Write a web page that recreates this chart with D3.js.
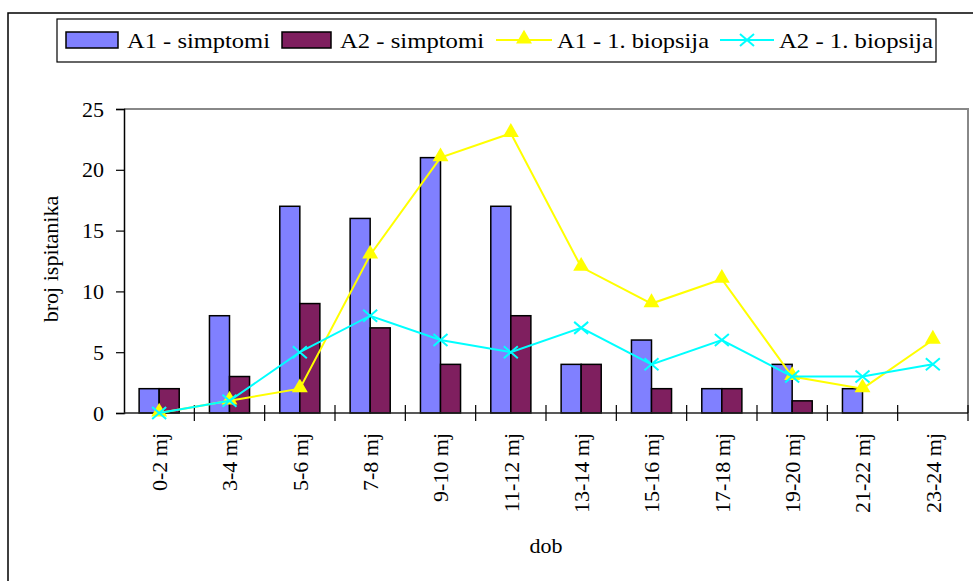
<!DOCTYPE html>
<html>
<head>
<meta charset="utf-8">
<script src="https://cdn.jsdelivr.net/npm/d3@7"></script>
<style>
  body { margin: 0; background: #fff; }
</style>
</head>
<body>
<div id="chart"></div>
<script>
const categories = ["0-2 mj", "3-4 mj", "5-6 mj", "7-8 mj", "9-10 mj", "11-12 mj",
    "13-14 mj", "15-16 mj", "17-18 mj", "19-20 mj", "21-22 mj", "23-24 mj"];
const a1Simptomi = [2, 8, 17, 16, 21, 17, 4, 6, 2, 4, 2, 0];
const a2Simptomi = [2, 3, 9, 7, 4, 8, 4, 2, 2, 1, 0, 0];
const a1Biopsija = [0, 1, 2, 13, 21, 23, 12, 9, 11, 3, 2, 6];
const a2Biopsija = [0, 1, 5, 8, 6, 5, 7, 4, 6, 3, 3, 4];
const yTicks = [0, 5, 10, 15, 20, 25];

const width = 973,
    height = 581,
    plotLeft = 124,
    plotRight = 968,
    plotTop = 109,
    plotBottom = 413,
    fontSize = 22,
    serif = "'Times New Roman', Times, 'Liberation Serif', 'DejaVu Serif', serif";

const svg = d3.select("#chart").append("svg")
    .attr("width", width)
    .attr("height", height)
    .attr("font-family", serif);

// outer chart frame (runs off the right and bottom edges)
svg.append("rect")
    .attr("x", 8).attr("y", 13)
    .attr("width", 1000).attr("height", 620)
    .attr("fill", "none").attr("stroke", "#000").attr("stroke-width", 1.5);

const x = d3.scaleBand().domain(categories).range([plotLeft, plotRight]);
const x1 = d3.scaleBand().domain(["A1", "A2"])
    .range([x.bandwidth() * 0.215, x.bandwidth() * 0.785]);
const y = d3.scaleLinear().domain([0, 25]).range([plotBottom, plotTop]);

// plot area border (grey top and right)
svg.append("path")
    .attr("d", `M${plotLeft},${plotTop}H${plotRight}V${plotBottom}`)
    .attr("fill", "none").attr("stroke", "#888").attr("stroke-width", 2);

// bars
const bars = [
    {key: "A1", values: a1Simptomi, color: "#8080ff"},
    {key: "A2", values: a2Simptomi, color: "#7f1f5f"}
];
bars.forEach((s) => {
    svg.append("g").selectAll("rect")
        .data(s.values.map((v, i) => ({cat: categories[i], v})).filter((d) => d.v > 0))
        .enter().append("rect")
        .attr("x", (d) => x(d.cat) + x1(s.key))
        .attr("y", (d) => y(d.v))
        .attr("width", x1.bandwidth())
        .attr("height", (d) => y(0) - y(d.v))
        .attr("fill", s.color)
        .attr("stroke", "#000").attr("stroke-width", 1.5);
});

// y axis
const yAxis = d3.axisLeft(y).tickValues(yTicks).tickSize(8).tickPadding(12);
const gy = svg.append("g").attr("transform", `translate(${plotLeft},0)`).call(yAxis)
    .attr("font-family", serif).attr("font-size", fontSize);
gy.select(".domain").attr("stroke", "#000").attr("stroke-width", 1.5);
gy.selectAll(".tick line").attr("stroke", "#000").attr("stroke-width", 1.2);
gy.selectAll(".tick text").attr("fill", "#000");

// x axis
svg.append("line")
    .attr("x1", plotLeft).attr("x2", plotRight)
    .attr("y1", plotBottom).attr("y2", plotBottom)
    .attr("stroke", "#222").attr("stroke-width", 1.5);
const edges = categories.map((c) => x(c)).concat([plotRight]);
svg.append("g").selectAll("line")
    .data(edges.slice(1))
    .enter().append("line")
    .attr("x1", (d) => d).attr("x2", (d) => d)
    .attr("y1", plotBottom - 8).attr("y2", plotBottom + 8)
    .attr("stroke", "#000").attr("stroke-width", 1.2);
svg.append("g").selectAll("text")
    .data(categories)
    .enter().append("text")
    .attr("transform", (d) => `translate(${x(d) + x.bandwidth() / 2},433) rotate(-90)`)
    .attr("dy", "0.35em")
    .attr("text-anchor", "end")
    .attr("font-size", fontSize)
    .text((d) => d);

// lines
const line = d3.line()
    .x((d) => x(d.cat) + x.bandwidth() / 2)
    .y((d) => y(d.v));
const triangle = d3.symbol().type(d3.symbolTriangle).size(110);

function drawSeries(values, color, marker) {
    const pts = values.map((v, i) => ({cat: categories[i], v}));
    svg.append("path")
        .datum(pts)
        .attr("d", line)
        .attr("fill", "none").attr("stroke", color).attr("stroke-width", 2);
    const g = svg.append("g").selectAll("g")
        .data(pts).enter().append("g")
        .attr("transform", (d) => `translate(${x(d.cat) + x.bandwidth() / 2},${y(d.v)})`);
    marker(g, color);
}
function triMarker(g, color) {
    g.append("path").attr("d", triangle).attr("fill", color)
        .attr("transform", "translate(0,-1)");
}
function crossMarker(g, color) {
    g.append("path").attr("d", "M-7,-6L7,6M-7,6L7,-6")
        .attr("stroke", color).attr("stroke-width", 2);
}
drawSeries(a1Biopsija, "#ffff00", triMarker);
drawSeries(a2Biopsija, "#00ffff", crossMarker);

// axis titles
svg.append("text")
    .attr("transform", "translate(50,259) rotate(-90)")
    .attr("dy", "0.35em")
    .attr("text-anchor", "middle")
    .attr("font-size", fontSize)
    .text("broj ispitanika");
svg.append("text")
    .attr("x", 546).attr("y", 553)
    .attr("text-anchor", "middle")
    .attr("font-size", fontSize)
    .text("dob");

// legend
svg.append("rect")
    .attr("x", 57).attr("y", 19).attr("width", 879).attr("height", 43)
    .attr("fill", "#fff").attr("stroke", "#000").attr("stroke-width", 1.2);
const legendItems = [
    {label: "A1 - simptomi", kind: "bar", color: "#8080ff", x0: 66, x1: 118, tx: 127, tw: 143},
    {label: "A2 - simptomi", kind: "bar", color: "#7f1f5f", x0: 282, x1: 331, tx: 340, tw: 144},
    {label: "A1 - 1. biopsija", kind: "tri", color: "#ffff00", x0: 496, x1: 552, tx: 557, tw: 152},
    {label: "A2 - 1. biopsija", kind: "cross", color: "#00ffff", x0: 720, x1: 774, tx: 779, tw: 154}
];
legendItems.forEach((d) => {
    const g = svg.append("g");
    if (d.kind === "bar") {
        g.append("rect")
            .attr("x", d.x0).attr("y", 32).attr("width", d.x1 - d.x0).attr("height", 16)
            .attr("fill", d.color).attr("stroke", "#000").attr("stroke-width", 1.5);
    } else {
        g.append("line")
            .attr("x1", d.x0).attr("x2", d.x1).attr("y1", 40).attr("y2", 40)
            .attr("stroke", d.color).attr("stroke-width", 2);
        const m = g.append("g").attr("transform", `translate(${(d.x0 + d.x1) / 2},40)`);
        if (d.kind === "tri") triMarker(m, d.color); else crossMarker(m, d.color);
    }
    g.append("text")
        .attr("x", d.tx).attr("y", 48)
        .attr("font-size", fontSize)
        .attr("textLength", d.tw)
        .attr("lengthAdjust", "spacingAndGlyphs")
        .text(d.label);
});
</script>
</body>
</html>
